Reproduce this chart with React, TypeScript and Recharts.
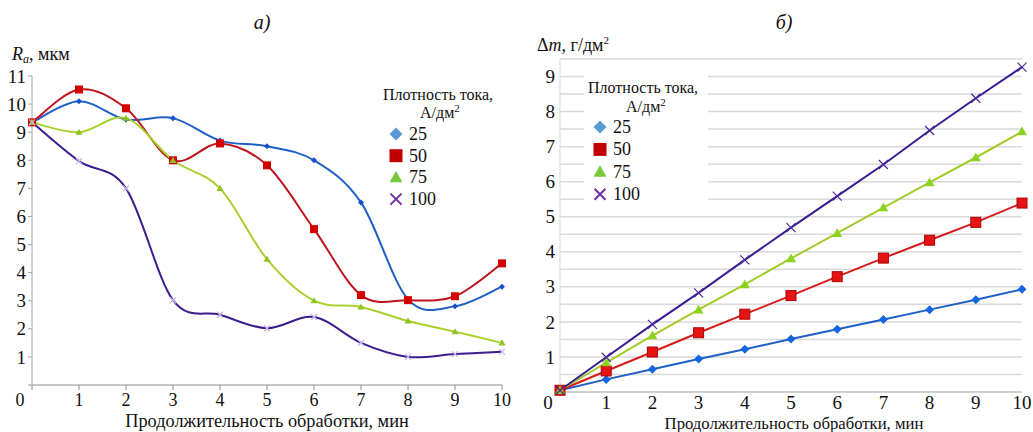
import React from 'react';
import { LineChart, Line, XAxis, YAxis, CartesianGrid, Legend } from 'recharts';

// time of treatment, min
const minutes = [0, 1, 2, 3, 4, 5, 6, 7, 8, 9, 10];
const densities = ['25', '50', '75', '100'];

// а) roughness Ra, мкм
const ra25 = [9.35, 10.1, 9.45, 9.5, 8.7, 8.5, 8.0, 6.5, 3.05, 2.8, 3.5];
const ra50 = [9.35, 10.52, 9.85, 8.0, 8.6, 7.82, 5.55, 3.2, 3.02, 3.16, 4.33];
const ra75 = [9.35, 9.0, 9.5, 8.0, 7.0, 4.48, 3.0, 2.78, 2.28, 1.9, 1.5];
const ra100 = [9.35, 7.97, 7.0, 3.02, 2.5, 2.02, 2.42, 1.5, 1.0, 1.1, 1.18];

// б) mass loss Δm, г/дм²
const dm25 = [0.05, 0.36, 0.65, 0.94, 1.22, 1.51, 1.79, 2.07, 2.35, 2.63, 2.93];
const dm50 = [0.05, 0.6, 1.14, 1.69, 2.22, 2.75, 3.29, 3.82, 4.33, 4.84, 5.39];
const dm75 = [0.05, 0.84, 1.61, 2.35, 3.07, 3.81, 4.53, 5.26, 5.98, 6.69, 7.43];
const dm100 = [0.05, 0.99, 1.93, 2.83, 3.77, 4.69, 5.59, 6.49, 7.46, 8.38, 9.27];

const raTicks = [0, 1, 2, 3, 4, 5, 6, 7, 8, 9, 10, 11];
const dmTicks = [0, 0.5, 1, 1.5, 2, 2.5, 3, 3.5, 4, 4.5, 5, 5.5, 6, 6.5, 7, 7.5, 8, 8.5, 9, 9.5];

const raData = minutes.map((t, i) => ({ t, s25: ra25[i], s50: ra50[i], s75: ra75[i], s100: ra100[i] }));
const dmData = minutes.map((t, i) => ({ t, s25: dm25[i], s50: dm50[i], s75: dm75[i], s100: dm100[i] }));

const FONT = '"Liberation Serif", "Times New Roman", serif';

// Excel-like smoothed line (Catmull-Rom through the points)
const smoothCurve = (context: any) => {
  let pts: number[][] = [];
  return {
    areaStart() {},
    areaEnd() {},
    lineStart() {
      pts = [];
    },
    point(x: number, y: number) {
      pts.push([+x, +y]);
    },
    lineEnd() {
      if (!pts.length) return;
      context.moveTo(pts[0][0], pts[0][1]);
      for (let i = 0; i < pts.length - 1; i++) {
        const p0 = pts[i - 1] || pts[i];
        const p1 = pts[i];
        const p2 = pts[i + 1];
        const p3 = pts[i + 2] || p2;
        context.bezierCurveTo(
          p1[0] + (p2[0] - p0[0]) / 6,
          p1[1] + (p2[1] - p0[1]) / 6,
          p2[0] - (p3[0] - p1[0]) / 6,
          p2[1] - (p3[1] - p1[1]) / 6,
          p2[0],
          p2[1]
        );
      }
    },
  };
};

type MarkerProps = {
  cx?: number;
  cy?: number;
  shape: string;
  size: number;
  fill: string;
  stroke?: string;
  strokeWidth?: number;
};

const Marker = ({ cx, cy, shape, size, fill, stroke, strokeWidth = 1 }: MarkerProps) => {
  if (cx == null || cy == null) return null;
  const r = size / 2;
  if (shape === 'diamond') {
    return <polygon points={`${cx},${cy - r} ${cx + r},${cy} ${cx},${cy + r} ${cx - r},${cy}`} fill={fill} stroke={stroke || 'none'} />;
  }
  if (shape === 'square') {
    return <rect x={cx - r} y={cy - r} width={size} height={size} fill={fill} stroke={stroke || 'none'} />;
  }
  if (shape === 'triangle') {
    return <polygon points={`${cx},${cy - r} ${cx + r},${cy + r * 0.75} ${cx - r},${cy + r * 0.75}`} fill={fill} stroke={stroke || 'none'} />;
  }
  return (
    <path
      d={`M${cx - r},${cy - r}L${cx + r},${cy + r}M${cx - r},${cy + r}L${cx + r},${cy - r}`}
      stroke={fill}
      strokeWidth={strokeWidth}
      fill="none"
    />
  );
};

const dotFor = (shape: string, size: number, fill: string, stroke?: string, strokeWidth?: number) => (p: any) => (
  <Marker key={`m-${p.index}`} cx={p.cx} cy={p.cy} shape={shape} size={size} fill={fill} stroke={stroke} strokeWidth={strokeWidth} />
);

const legendMarks = [
  { shape: 'diamond', fill: '#5b9bd5' },
  { shape: 'square', fill: '#c00000' },
  { shape: 'triangle', fill: '#77c83a' },
  { shape: 'cross', fill: '#7030a0' },
];

type LegendBoxProps = {
  width: number;
  height: number;
  white?: boolean;
  titleY: number;
  unitY: number;
  itemY: number;
  step: number;
  markX: number;
};

const LegendBox = ({ width, height, white, titleY, unitY, itemY, step, markX }: LegendBoxProps) => (
  <svg width={width} height={height} style={{ display: 'block' }}>
    {white && <rect x={0} y={0} width={width} height={height} fill="#fff" />}
    <text x={4} y={titleY} fontSize={16} fontFamily={FONT} fill="#111">
      Плотность тока,
    </text>
    <text x={width / 2 - 20} y={unitY} fontSize={16} fontFamily={FONT} fill="#111">
      А/дм<tspan dy={-6} fontSize={11}>2</tspan>
    </text>
    {densities.map((d, i) => {
      const cy = itemY + i * step;
      return (
        <g key={d}>
          <Marker cx={markX} cy={cy} shape={legendMarks[i].shape} size={legendMarks[i].shape === 'cross' ? 11 : 13} fill={legendMarks[i].fill} strokeWidth={2} />
          <text x={markX + 13} y={cy + 6} fontSize={18} fontFamily={FONT} fill="#111">
            {d}
          </text>
        </g>
      );
    })}
  </svg>
);

const XTick = ({ x, y, payload, dy, size }: any) => (
  <text x={payload.value === 0 ? x - 12 : x} y={y} dy={dy} textAnchor="middle" fontSize={size} fontFamily={FONT} fill="#111">
    {payload.value}
  </text>
);

const YTick = ({ x, y, payload, size }: any) => {
  if (payload.value === 0 || !Number.isInteger(payload.value)) return null;
  return (
    <text x={x} y={y} dy={size * 0.35} textAnchor="end" fontSize={size} fontFamily={FONT} fill="#111">
      {payload.value}
    </text>
  );
};

const RaTitle = () => (
  <g fontFamily={FONT} fill="#111">
    <text x={262} y={29} textAnchor="middle" fontSize={20} fontStyle="italic">
      а)
    </text>
    <text x={12} y={60} fontSize={18}>
      <tspan fontStyle="italic">R</tspan>
      <tspan fontStyle="italic" fontSize={12} dy={3}>
        a
      </tspan>
      <tspan dy={-3}>, мкм</tspan>
    </text>
  </g>
);

const DmTitle = () => (
  <g fontFamily={FONT} fill="#111">
    <text x={274} y={29} textAnchor="middle" fontSize={20} fontStyle="italic">
      б)
    </text>
    <text x={27} y={51} fontSize={18}>
      Δ<tspan fontStyle="italic">m</tspan>, г/дм<tspan dy={-7} fontSize={11}>2</tspan>
    </text>
  </g>
);

const XTitle = ({ x, y, size }: { x: number; y: number; size: number }) => (
  <text x={x} y={y} textAnchor="middle" fontSize={size} fontFamily={FONT} fill="#111">
    Продолжительность обработки, мин
  </text>
);

export default function App() {
  return (
    <div style={{ position: 'absolute', left: 0, top: 0, width: 1033, height: 432, background: '#fff' }}>
      <div style={{ position: 'absolute', left: 0, top: 0 }}>
        <LineChart width={520} height={432} data={raData} margin={{ top: 76, right: 18, bottom: 0, left: 2 }}>
          <XAxis
            dataKey="t"
            type="number"
            domain={[0, 10]}
            ticks={minutes}
            interval={0}
            height={47}
            tickSize={5}
            stroke="#8c8c8c"
            tick={<XTick dy={14} size={18} />}
            label={{ content: () => <XTitle x={267} y={427} size={18.3} /> }}
          />
          <YAxis
            type="number"
            domain={[0, 11]}
            ticks={raTicks}
            interval={0}
            width={30}
            tickSize={4}
            tickMargin={2}
            stroke="#a6a6a6"
            tick={<YTick size={19} />}
            label={{ content: () => <RaTitle /> }}
          />
          <Legend
            layout="vertical"
            align="center"
            verticalAlign="middle"
            wrapperStyle={{ left: 379, top: 79, width: 122, height: 136 }}
            content={() => <LegendBox width={122} height={136} titleY={21} unitY={39} itemY={55} step={21.7} markX={17} />}
          />
          <Line type={smoothCurve as any} dataKey="s25" stroke="#1f5fc6" strokeWidth={2} dot={dotFor('diamond', 6, '#1650d0')} isAnimationActive={false} />
          <Line type={smoothCurve as any} dataKey="s50" stroke="#c0141c" strokeWidth={2} dot={dotFor('square', 8, '#d40000')} isAnimationActive={false} />
          <Line type={smoothCurve as any} dataKey="s75" stroke="#a9d02d" strokeWidth={2} dot={dotFor('triangle', 7, '#8dc41f')} isAnimationActive={false} />
          <Line type={smoothCurve as any} dataKey="s100" stroke="#3c1d8f" strokeWidth={2} dot={dotFor('cross', 6, '#c8b4ec', undefined, 1.3)} isAnimationActive={false} />
        </LineChart>
      </div>
      <div style={{ position: 'absolute', left: 510, top: 0 }}>
        <LineChart width={523} height={432} data={dmData} margin={{ top: 59, right: 11, bottom: 0, left: 20 }}>
          <CartesianGrid vertical={false} stroke="#d9d9d9" strokeWidth={1.5} />
          <XAxis
            dataKey="t"
            type="number"
            domain={[0, 10]}
            ticks={minutes}
            interval={0}
            height={40}
            tickLine={false}
            tickSize={4}
            stroke="#bfbfbf"
            tick={<XTick dy={11} size={19} />}
            label={{ content: () => <XTitle x={284} y={429} size={16.7} /> }}
          />
          <YAxis
            type="number"
            domain={[0, 9.5]}
            ticks={dmTicks}
            interval={0}
            width={30}
            tickLine={false}
            tickSize={3}
            tickMargin={2}
            stroke="#d9d9d9"
            tick={<YTick size={19} />}
            label={{ content: () => <DmTitle /> }}
          />
          <Legend
            layout="vertical"
            align="center"
            verticalAlign="middle"
            wrapperStyle={{ left: 74, top: 68, width: 124, height: 137 }}
            content={() => <LegendBox width={124} height={137} white titleY={25} unitY={44} itemY={59} step={22.4} markX={16} />}
          />
          <Line type="linear" dataKey="s25" stroke="#1f5fc6" strokeWidth={2} dot={dotFor('diamond', 9, '#1466e0')} isAnimationActive={false} />
          <Line type="linear" dataKey="s50" stroke="#d41a1a" strokeWidth={2} dot={dotFor('square', 10, '#e41414', '#b00000')} isAnimationActive={false} />
          <Line type="linear" dataKey="s75" stroke="#a0cc28" strokeWidth={2} dot={dotFor('triangle', 10, '#8cd21e')} isAnimationActive={false} />
          <Line type="linear" dataKey="s100" stroke="#3a1c94" strokeWidth={2} dot={dotFor('cross', 9, '#4a2a9a', undefined, 1.2)} isAnimationActive={false} />
        </LineChart>
      </div>
    </div>
  );
}
